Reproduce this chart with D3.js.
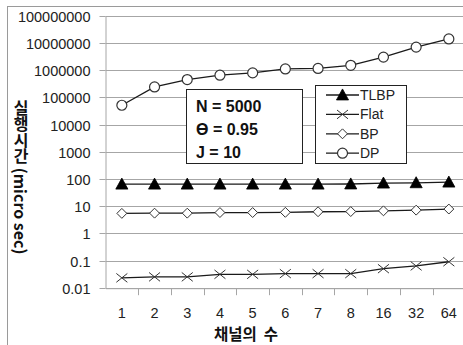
<!DOCTYPE html>
<html>
<head>
<meta charset="utf-8">
<script src="https://cdn.jsdelivr.net/npm/d3@7"></script>
<style>
  html, body { margin: 0; padding: 0; background: #fff; }
  svg { display: block; }
</style>
</head>
<body>
<svg id="chart" width="463" height="345"></svg>
<script>
// Channel counts on the x axis
const channels = ["1", "2", "3", "4", "5", "6", "7", "8", "16", "32", "64"];

// Execution time (micro sec) per method
const tlbp = [64, 64, 64, 64, 64, 64, 64, 65, 70, 72, 76];
const flat = [0.023, 0.025, 0.025, 0.031, 0.031, 0.033, 0.033, 0.033, 0.05, 0.063, 0.09];
const bp   = [5.4, 5.5, 5.5, 5.8, 5.8, 5.9, 6.2, 6.3, 6.7, 7.1, 7.8];
const dp   = [51000, 240000, 450000, 650000, 790000, 1100000, 1150000, 1500000, 3000000, 7000000, 14000000];

// Log axis ticks and their labels
const yTicks = [1e8, 1e7, 1e6, 1e5, 1e4, 1e3, 100, 10, 1, 0.1, 0.01];
const yTickLabels = ["100000000", "10000000", "1000000", "100000", "10000", "1000", "100", "10", "1", "0.1", "0.01"];

const seriesNames = ["TLBP", "Flat", "BP", "DP"];
const seriesValues = [tlbp, flat, bp, dp];
const seriesMarkers = ["triangle", "cross", "diamond", "circle"];

const paramLines = ["N = 5000", "\u03F4 = 0.95", "J = 10"];

const svg = d3.select("#chart");
const grid = "#a6a6a6";
const ink = "#1a1a1a";

// Outer frame of the chart area
svg.append("rect")
  .attr("x", 7.5).attr("y", 6.5)
  .attr("width", 470).attr("height", 350)
  .attr("fill", "#fff").attr("stroke", "#9a9a9a");

const plot = { left: 105.5, top: 15.7, bottom: 287.7 };
const band = 32.7;

const x = d3.scaleBand()
  .domain(channels)
  .range([plot.left, plot.left + band * channels.length])
  .paddingInner(0).paddingOuter(0);

const y = d3.scaleLog()
  .domain([0.01, 1e8])
  .range([plot.bottom, plot.top]);

// Horizontal gridlines
svg.append("g").selectAll("line")
  .data(yTicks)
  .join("line")
  .attr("x1", plot.left).attr("x2", 463)
  .attr("y1", d => Math.round(y(d)) + 0.5)
  .attr("y2", d => Math.round(y(d)) + 0.5)
  .attr("stroke", grid).attr("stroke-width", 1);

// Y axis
const yAxis = d3.axisLeft(y)
  .tickValues(yTicks)
  .tickFormat((d, i) => yTickLabels[i])
  .tickSizeInner(6).tickSizeOuter(0).tickPadding(9);

const gy = svg.append("g")
  .attr("transform", `translate(${plot.left},0)`)
  .call(yAxis);
gy.select(".domain").attr("stroke", grid);
gy.selectAll(".tick line").attr("stroke", grid);
gy.selectAll(".tick")
  .attr("transform", d => `translate(0,${Math.round(y(d)) + 0.5})`);
gy.selectAll(".tick text")
  .attr("fill", "#222")
  .style("font-family", "'Liberation Sans', Arial, sans-serif")
  .style("font-size", "14.5px")
  .attr("dy", "0.36em");

// X axis with tick marks between categories
const xAxis = d3.axisBottom(x).tickSize(0).tickPadding(0);
const gx = svg.append("g")
  .attr("transform", `translate(0,${plot.bottom + 0.5})`)
  .call(xAxis);
gx.select(".domain").attr("stroke", grid);
gx.selectAll(".tick text")
  .attr("y", 29.5)
  .attr("dy", 0)
  .attr("fill", "#222")
  .style("font-family", "'Liberation Sans', Arial, sans-serif")
  .style("font-size", "14.5px");

gx.append("g").selectAll("line")
  .data(channels.slice(1))
  .join("line")
  .attr("x1", d => Math.round(x(d)) + 0.5)
  .attr("x2", d => Math.round(x(d)) + 0.5)
  .attr("y1", 0).attr("y2", 7)
  .attr("stroke", grid);

// Marker shapes
function marker(g, type, size) {
  const s = size;
  if (type === "triangle") {
    g.append("path")
      .attr("d", `M0,${-s * 0.55}L${s * 0.55},${s * 0.45}L${-s * 0.55},${s * 0.45}Z`)
      .attr("fill", "#000").attr("stroke", "#000").attr("stroke-width", 0.8);
  } else if (type === "cross") {
    const h = s * 0.5;
    g.append("path")
      .attr("d", `M${-h},${-h * 0.8}L${h},${h * 0.8}M${-h},${h * 0.8}L${h},${-h * 0.8}`)
      .attr("fill", "none").attr("stroke", "#333").attr("stroke-width", 1);
  } else if (type === "diamond") {
    const h = s * 0.45;
    g.append("path")
      .attr("d", `M0,${-h}L${h},0L0,${h}L${-h},0Z`)
      .attr("fill", "#fff").attr("stroke", "#333").attr("stroke-width", 1);
  } else {
    g.append("circle")
      .attr("r", s * 0.5)
      .attr("fill", "#fff").attr("stroke", "#333").attr("stroke-width", 1.2);
  }
}

const cx = d => x(d) + x.bandwidth() / 2;
const line = d3.line()
  .x(d => cx(d.c))
  .y(d => y(d.v));

seriesValues.forEach((vals, si) => {
  const pts = channels.map((c, i) => ({ c, v: vals[i] }));
  const g = svg.append("g");
  g.append("path")
    .datum(pts)
    .attr("d", line)
    .attr("fill", "none")
    .attr("stroke", ink)
    .attr("stroke-width", 1.3);
  pts.forEach(p => {
    const m = g.append("g").attr("transform", `translate(${cx(p.c)},${y(p.v)})`);
    marker(m, seriesMarkers[si], seriesMarkers[si] === "circle" ? 10 : 11);
  });
});

// Parameter box
const pbox = svg.append("g");
pbox.append("rect")
  .attr("x", 186.5).attr("y", 89.5)
  .attr("width", 116).attr("height", 74)
  .attr("fill", "#fff").attr("stroke", "#222").attr("stroke-width", 1);
pbox.selectAll("text")
  .data(paramLines)
  .join("text")
  .attr("x", 196)
  .attr("y", (d, i) => 111.5 + i * 23.3)
  .attr("fill", "#111")
  .style("font-family", "'Liberation Sans', Arial, sans-serif")
  .style("font-weight", "bold")
  .style("font-size", "16px")
  .text(d => d);

// Legend
const leg = svg.append("g");
leg.append("rect")
  .attr("x", 315.5).attr("y", 85.5)
  .attr("width", 91).attr("height", 78)
  .attr("fill", "#fff").attr("stroke", "#222").attr("stroke-width", 1);
seriesNames.forEach((name, i) => {
  const ly = 95 + i * 19.4;
  const row = leg.append("g").attr("transform", `translate(0,${ly})`);
  row.append("line")
    .attr("x1", 326).attr("x2", 359)
    .attr("y1", 0).attr("y2", 0)
    .attr("stroke", ink).attr("stroke-width", 1.3);
  const m = row.append("g").attr("transform", "translate(342.5,0)");
  marker(m, seriesMarkers[i], seriesMarkers[i] === "circle" ? 10 : 11);
  row.append("text")
    .attr("x", 360).attr("y", 0).attr("dy", "0.36em")
    .attr("fill", "#222")
    .style("font-family", "'Liberation Sans', Arial, sans-serif")
    .style("font-size", "14px")
    .text(name);
});

// Axis titles
svg.append("text")
  .attr("x", 246).attr("y", 339.5)
  .attr("text-anchor", "middle")
  .attr("fill", "#111")
  .style("white-space", "pre")
  .style("font-family", "'Noto Sans CJK KR', sans-serif")
  .style("font-weight", "bold")
  .style("font-size", "15.5px")
  .text("채널의  수");

svg.append("text")
  .attr("x", 21).attr("y", 100)
  .attr("fill", "#111")
  .style("writing-mode", "vertical-rl")
  .style("text-orientation", "mixed")
  .style("font-family", "'Noto Sans CJK KR', sans-serif")
  .style("font-weight", "bold")
  .style("font-size", "16px")
  .text("실행시간 (micro sec)");
</script>
</body>
</html>
